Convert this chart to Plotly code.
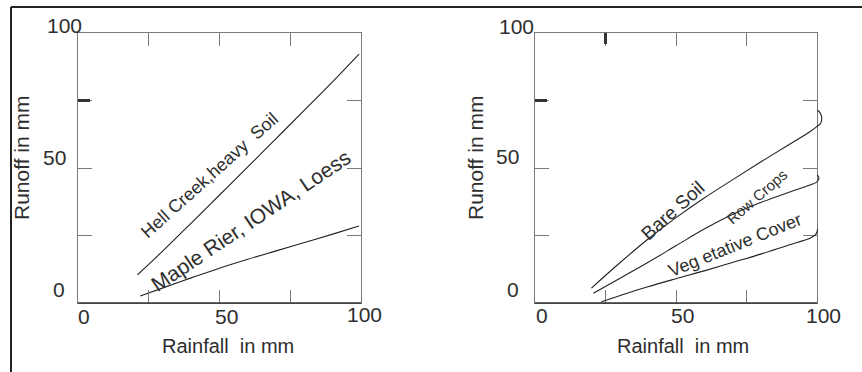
import plotly.graph_objects as go

# ---- data ----
hell_x = [21, 30, 40, 50, 60, 70, 80, 90, 99.3]
hell_y = [10.4, 19.3, 29.6, 40.0, 50.4, 60.9, 71.4, 82.0, 92.2]

maple_x = [22, 30, 40, 50, 60, 70, 80, 90, 99.3]
maple_y = [2.6, 5.6, 9.3, 12.9, 16.2, 19.3, 22.4, 25.5, 28.5]

bare_x = [20, 30, 40, 50, 60, 70, 80, 90, 97.5, 99.9, 101.3, 101.7, 101.2, 100.1]
bare_y = [5.5, 14.8, 23.6, 31.6, 38.9, 45.6, 52.2, 58.6, 63.4, 65.3, 66.6, 68.4, 70.3, 71.5]

row_x = [20.7, 30, 40, 50, 60, 70, 80, 90, 97.5, 99.6, 100.5, 100.6, 100.1]
row_y = [3.6, 9.1, 15.0, 21.2, 27.4, 32.8, 37.2, 41.0, 43.7, 44.6, 45.6, 46.6, 47.5]

veg_x = [23.6, 30, 40, 50, 60, 70, 80, 90, 97.5, 99.3, 100.0, 100.2]
veg_y = [0.5, 2.7, 6.0, 9.0, 11.9, 15.0, 18.1, 21.5, 24.0, 25.1, 26.3, 27.5]

tick_vals = [0, 25, 50, 75, 100]
label_vals = [0, 50, 100]
label_text = ["0", "50", "100"]

x_title = "Rainfall  in mm"
y_title = "Runoff in mm"

# ---- style / geometry ----
W, H = 862, 372
FONT = "Liberation Sans, Arial, sans-serif"
TXT = "#2e2e2e"
AXC = "#7a7a7a"
LINE = "#222222"

lx = [78 / W, 361 / W]
rx = [535 / W, 817 / W]
rx_ext = [535 / W, 830 / W]
ydom = [1 - 303 / H, 1 - 33 / H]

# pixel nudges of the (irregularly placed) tick labels, per panel: (xshift, yshift) for 0, 50, 100
xlab_shift = {"x": [(6, -13), (7, -13), (3, -11)], "x2": [(7, -12), (6, -12), (6, -12)]}
ylab_shift = {"y": [(-11, 14), (-10, 11), (6, 8)], "y2": [(-14, 14), (-14, 12), (1, 7)]}

fig = go.Figure()

line_style = dict(color=LINE, width=1.1)
fig.add_trace(go.Scatter(x=hell_x, y=hell_y, mode="lines", line=line_style,
                         line_shape="spline", xaxis="x", yaxis="y", showlegend=False, hoverinfo="skip"))
fig.add_trace(go.Scatter(x=maple_x, y=maple_y, mode="lines", line=line_style,
                         line_shape="spline", xaxis="x", yaxis="y", showlegend=False, hoverinfo="skip"))
for xs, ys in [(bare_x, bare_y), (row_x, row_y), (veg_x, veg_y)]:
    fig.add_trace(go.Scatter(x=xs, y=ys, mode="lines", line=line_style, hoverinfo="skip",
                             line_shape="spline", xaxis="x3", yaxis="y3", showlegend=False))


def ax(domain, anchor, ticklen):
    return dict(domain=domain, anchor=anchor, range=[0, 100], showgrid=False, zeroline=False,
                showline=True, linecolor=AXC, linewidth=1.2, mirror="allticks",
                ticks="inside", ticklen=ticklen, tickwidth=1, tickcolor=AXC,
                tickvals=tick_vals, showticklabels=False, fixedrange=True)


ext_range = 100 * (rx_ext[1] - rx_ext[0]) / (rx[1] - rx[0])

fig.update_layout(
    width=W, height=H,
    margin=dict(l=0, r=0, t=0, b=0),
    paper_bgcolor="white", plot_bgcolor="rgba(0,0,0,0)",
    xaxis=ax(lx, "y", 13),
    yaxis=ax(ydom, "x", 14),
    xaxis2=ax(rx, "y2", 13),
    yaxis2=ax(ydom, "x2", 14),
    xaxis3=dict(domain=rx_ext, anchor="y3", range=[0, ext_range], visible=False, fixedrange=True),
    yaxis3=dict(domain=ydom, anchor="x3", range=[0, 100], visible=False, fixedrange=True),
)

annotations = []
tick_font = dict(family=FONT, size=21, color=TXT)
# tick labels, placed through the axes' own scales
for xr, yr in [("x", "y"), ("x2", "y2")]:
    for v, t, (dx, dy) in zip(label_vals, label_text, xlab_shift[xr]):
        annotations.append(dict(text=t, x=v, y=0, xref=xr, yref=yr, xshift=dx, yshift=dy,
                                showarrow=False, xanchor="center", yanchor="middle", font=tick_font))
    for v, t, (dx, dy) in zip(label_vals, label_text, ylab_shift[yr]):
        annotations.append(dict(text=t, x=0, y=v, xref=xr, yref=yr, xshift=dx, yshift=dy,
                                showarrow=False, xanchor="right", yanchor="middle", font=tick_font))

# axis titles
for xc in [228 / W, 683 / W]:
    annotations.append(dict(text=x_title, x=xc, y=1 - 346 / H, xref="paper", yref="paper",
                            showarrow=False, xanchor="center", yanchor="middle",
                            font=dict(family=FONT, size=20, color=TXT)))
for xc in [21 / W, 475 / W]:
    annotations.append(dict(text=y_title, x=xc, y=1 - 158 / H, xref="paper", yref="paper",
                            showarrow=False, xanchor="center", yanchor="middle", textangle=-90,
                            font=dict(family=FONT, size=21, color=TXT)))

# curve labels
labels = [
    ("Hell Creek,heavy  Soil", 46.6, 47.4, -42, 18, "x", "y"),
    ("Maple Rier, IOWA, Loess", 61.1, 30.7, -34, 21, "x", "y"),
    ("Bare Soil", 48.9, 34.4, -42, 19, "x2", "y2"),
    ("Row Crops", 78.7, 39.3, -41, 15, "x2", "y2"),
    ("Veg etative Cover", 70.9, 21.5, -22, 18, "x2", "y2"),
]
for t, x, y, ang, sz, xr, yr in labels:
    annotations.append(dict(text=t, x=x, y=y, xref=xr, yref=yr, showarrow=False,
                            textangle=ang, xanchor="center", yanchor="middle",
                            font=dict(family=FONT, size=sz, color=TXT)))
fig.update_layout(annotations=annotations)

shapes = [
    # outer frame (left and top)
    dict(type="line", xref="paper", yref="paper", x0=11 / W, x1=11 / W, y0=0, y1=1 - 7 / H,
         line=dict(color=LINE, width=2)),
    dict(type="line", xref="paper", yref="paper", x0=11 / W, x1=1, y0=1 - 7 / H, y1=1 - 7 / H,
         line=dict(color=LINE, width=2)),
    # darker bottom axis lines
    dict(type="line", xref="x domain", yref="y domain", x0=0, x1=1, y0=0, y1=0,
         line=dict(color="#333333", width=1.5)),
    dict(type="line", xref="x2 domain", yref="y2 domain", x0=0, x1=1, y0=0, y1=0,
         line=dict(color="#333333", width=1.5)),
    # bold tick marks
    dict(type="line", xref="x", yref="y", xsizemode="pixel", xanchor=0, x0=0, x1=12, y0=75, y1=75,
         line=dict(color="#333333", width=3)),
    dict(type="line", xref="x2", yref="y2", xsizemode="pixel", xanchor=0, x0=0, x1=12, y0=75, y1=75,
         line=dict(color="#333333", width=3)),
    dict(type="line", xref="x2", yref="y2", ysizemode="pixel", yanchor=100, y0=0, y1=-11, x0=25, x1=25,
         line=dict(color="#333333", width=3)),
]
fig.update_layout(shapes=shapes)

fig.write_html(
    "out.html",
    config={"displayModeBar": False, "staticPlot": True},
    post_script="document.documentElement.style.overflow='hidden';"
                "document.body.style.margin='0';document.body.style.overflow='hidden';",
)
